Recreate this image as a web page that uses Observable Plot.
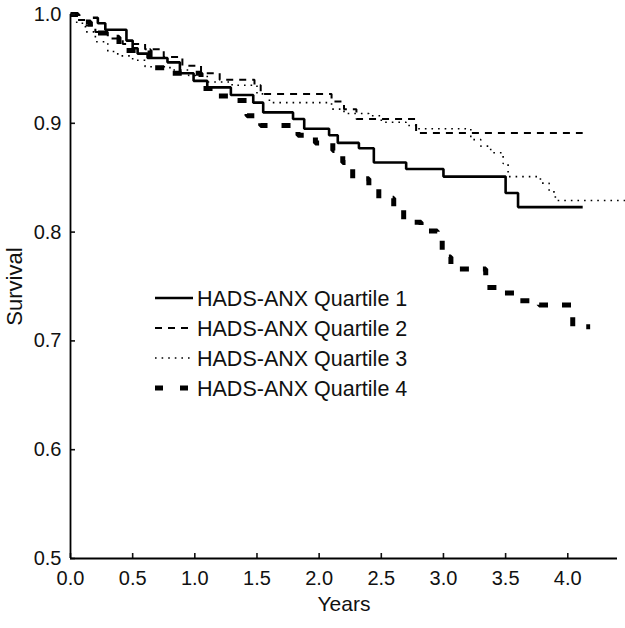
<!DOCTYPE html>
<html>
<head>
<meta charset="utf-8">
<script src="https://cdn.jsdelivr.net/npm/d3@7"></script>
<script src="https://cdn.jsdelivr.net/npm/@observablehq/plot@0.6"></script>
<style>
  html, body { margin: 0; padding: 0; background: #fff; }
  #wrap { position: relative; width: 625px; height: 628px; font-family: "Liberation Sans", Arial, sans-serif; }
  #legend { position: absolute; left: 0; top: 0; pointer-events: none; }
</style>
</head>
<body>
<div id="wrap"></div>
<script>
// ---- data ----
const seriesNames = ["HADS-ANX Quartile 1", "HADS-ANX Quartile 2", "HADS-ANX Quartile 3", "HADS-ANX Quartile 4"];

const q1Time = [0.18, 0.22, 0.28, 0.45, 0.5, 0.54, 0.62, 0.78, 0.88, 0.99, 1.1, 1.29, 1.47, 1.55, 1.79, 1.88, 2.08, 2.15, 2.32, 2.44, 2.70, 3.0, 3.5, 3.6, 4.12];
const q1Surv = [0.997, 0.992, 0.986, 0.976, 0.969, 0.964, 0.960, 0.956, 0.946, 0.939, 0.933, 0.926, 0.919, 0.910, 0.904, 0.895, 0.889, 0.882, 0.877, 0.864, 0.858, 0.851, 0.836, 0.823, 0.823];

const q2Time = [0, 0.05, 0.12, 0.2, 0.3, 0.42, 0.6, 0.75, 0.9, 1.05, 1.2, 1.48, 1.53, 2.1, 2.2, 2.3, 2.78, 4.12];
const q2Surv = [1.0, 0.995, 0.99, 0.984, 0.978, 0.973, 0.968, 0.961, 0.953, 0.946, 0.940, 0.935, 0.927, 0.920, 0.913, 0.904, 0.891, 0.891];

const q3Time = [0, 0.05, 0.12, 0.2, 0.3, 0.38, 0.5, 0.6, 0.8, 0.95, 1.1, 1.3, 1.5, 1.6, 2.1, 2.2, 2.4, 2.5, 2.7, 2.78, 3.22, 3.3, 3.38, 3.48, 3.52, 3.78, 3.85, 3.9, 4.46];
const q3Surv = [1.0, 0.992, 0.984, 0.975, 0.966, 0.962, 0.958, 0.952, 0.949, 0.944, 0.938, 0.935, 0.927, 0.919, 0.913, 0.909, 0.907, 0.901, 0.898, 0.895, 0.885, 0.879, 0.873, 0.863, 0.851, 0.845, 0.837, 0.829, 0.829];

const q4Time = [0, 0.06, 0.16, 0.30, 0.39, 0.64, 0.80, 1.05, 1.18, 1.34, 1.42, 1.53, 1.83, 1.97, 2.11, 2.19, 2.27, 2.40, 2.48, 2.60, 2.68, 2.82, 2.95, 2.99, 3.06, 3.34, 3.48, 3.60, 3.77, 4.04, 4.18];
const q4Surv = [1.0, 0.993, 0.983, 0.979, 0.967, 0.951, 0.946, 0.932, 0.925, 0.921, 0.907, 0.898, 0.889, 0.882, 0.875, 0.864, 0.849, 0.843, 0.831, 0.823, 0.809, 0.801, 0.794, 0.777, 0.766, 0.749, 0.744, 0.737, 0.733, 0.713, 0.713];

const xTicks = [0, 0.5, 1.0, 1.5, 2.0, 2.5, 3.0, 3.5, 4.0];
const yTicks = [0.5, 0.6, 0.7, 0.8, 0.9, 1.0];
const xLabel = "Years";
const yLabel = "Survival";

// ---- styles ----
const styles = [
  {strokeWidth: 2.6, dash: null},
  {strokeWidth: 2, dash: "7,6"},
  {strokeWidth: 1.6, dash: "1.6,5"},
  {strokeWidth: 5, dash: "9,14"}
];

const toRows = (t, s, k) => t.map((d, i) => ({time: d, surv: s[i], k}));
const rows = [
  toRows(q1Time, q1Surv, 0),
  toRows(q2Time, q2Surv, 1),
  toRows(q3Time, q3Surv, 2),
  toRows(q4Time, q4Surv, 3)
];

const font = "Liberation Sans, Arial, sans-serif";

const chart = Plot.plot({
  width: 625,
  height: 628,
  marginLeft: 70,
  marginRight: 8,
  marginTop: 14,
  marginBottom: 70,
  style: {fontFamily: font, fontSize: "20px", color: "#111", background: "#fff"},
  x: {domain: [0, 4.4]},
  y: {domain: [0.5, 1.0]},
  marks: [
    ...rows.map((r, k) => Plot.line(r, {
      x: "time", y: "surv", curve: "step-after",
      stroke: "#000", strokeWidth: styles[k].strokeWidth,
      strokeDasharray: styles[k].dash, strokeLinecap: "butt", strokeLinejoin: "miter"
    })),
    Plot.axisX({ticks: xTicks, tickFormat: d3.format(".1f"), tickSize: -5, tickPadding: 17, strokeWidth: 1.6, label: null, fontSize: 20}),
    Plot.axisY({ticks: yTicks, tickFormat: d3.format(".1f"), tickSize: -5, tickPadding: 14, strokeWidth: 1.6, label: null, fontSize: 20}),
    Plot.ruleY([0.5], {stroke: "#000", strokeWidth: 1.8}),
    Plot.ruleX([0], {stroke: "#000", strokeWidth: 1.8}),
    Plot.text([xLabel], {frameAnchor: "bottom", dy: 52, fontSize: 21, fill: "#111"}),
    Plot.text([yLabel], {frameAnchor: "left", textAnchor: "middle", dx: -56, rotate: -90, fontSize: 22, fill: "#111"})
  ]
});

const wrap = document.getElementById("wrap");
wrap.appendChild(chart);

// ---- legend overlay ----
const ns = "http://www.w3.org/2000/svg";
const leg = document.createElementNS(ns, "svg");
leg.setAttribute("id", "legend");
leg.setAttribute("width", 625);
leg.setAttribute("height", 628);
const legX0 = 155, legX1 = 193, legTextX = 197, legY0 = 298, legStep = 30;
seriesNames.forEach((name, k) => {
  const y = legY0 + k * legStep;
  const ln = document.createElementNS(ns, "line");
  ln.setAttribute("x1", legX0); ln.setAttribute("x2", legX1);
  ln.setAttribute("y1", y); ln.setAttribute("y2", y);
  ln.setAttribute("stroke", "#000");
  ln.setAttribute("stroke-width", styles[k].strokeWidth);
  if (styles[k].dash) ln.setAttribute("stroke-dasharray", k === 3 ? "8,17" : styles[k].dash);
  leg.appendChild(ln);
  const tx = document.createElementNS(ns, "text");
  tx.setAttribute("x", legTextX); tx.setAttribute("y", y);
  tx.setAttribute("dy", "0.36em");
  tx.setAttribute("font-family", font);
  tx.setAttribute("font-size", "21.5");
  tx.setAttribute("fill", "#111");
  tx.textContent = name;
  leg.appendChild(tx);
});
wrap.appendChild(leg);
</script>
</body>
</html>
